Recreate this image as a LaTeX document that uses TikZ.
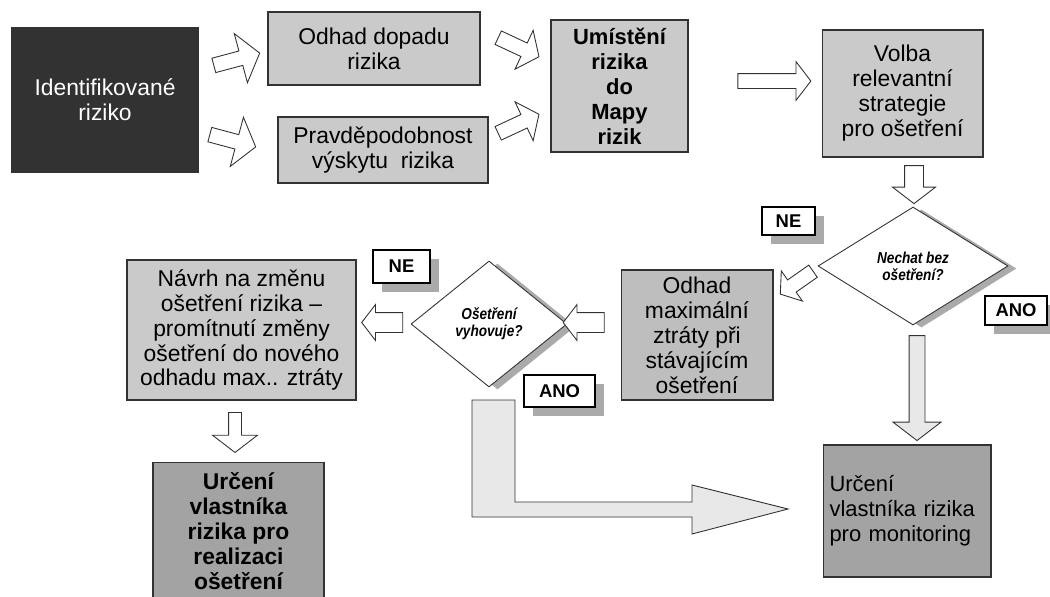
\documentclass[tikz,border=0pt]{standalone}
\usepackage{fontspec}
\setmainfont{Liberation Sans}
\newfontfamily\narrowfont[FakeStretch=0.86]{Liberation Sans}
\usepackage{tikz}
\usetikzlibrary{shapes,shadows,positioning,calc}
\definecolor{boxgray}{RGB}{202,202,202}
\definecolor{midgray}{RGB}{190,190,190}
\definecolor{darkgray}{RGB}{163,163,163}
\definecolor{inkgray}{RGB}{50,50,50}
\definecolor{shadowgray}{RGB}{170,170,170}
\definecolor{arrowgray}{RGB}{232,232,232}

\begin{document}
\begin{tikzpicture}[x=0.02cm,y=-0.02cm,
	box/.style={draw=inkgray,line width=0.6pt,fill=boxgray,align=center,inner sep=2pt,font=\fontsize{13}{14.2}\selectfont},
	decision/.style={diamond,draw=inkgray,line width=0.5pt,fill=white,inner sep=0pt,align=center,
		font=\narrowfont\fontsize{9}{9.5}\selectfont\bfseries\itshape,
		drop shadow={shadow xshift=0.17cm,shadow yshift=-0.05cm,fill=shadowgray,opacity=1}},
	tag/.style={draw=black,line width=0.6pt,fill=white,inner sep=1pt,font=\fontsize{10.5}{12}\selectfont\bfseries,
		drop shadow={shadow xshift=0.17cm,shadow yshift=-0.17cm,fill=shadowgray,opacity=1}},
	barrow/.style={single arrow,draw=inkgray,line width=0.5pt,fill=white,inner xsep=0pt,single arrow tip angle=105}]
\useasboundingbox (0,0) rectangle (1050,596);

% upper row
\node[box,fill=inkgray,text=white,minimum width=3.72cm,minimum height=2.88cm] (ident) at (105,100) {Identifikované\\riziko};
\node[box,minimum width=4.24cm,minimum height=1.46cm] (dopad) at (374,48.5) {Odhad dopadu\\rizika};
\node[box,minimum width=4.2cm,minimum height=1.32cm] (pravd) at (383,150) {Pravděpodobnost\\výskytu\ \ rizika};
\node[box,font=\fontsize{12.5}{14.2}\selectfont\bfseries,minimum width=2.74cm,minimum height=2.64cm] (umist) at (619.5,86) {Umístění\\rizika\\do\\Mapy\\rizik};
\node[box,minimum width=3.22cm,minimum height=2.54cm] (volba) at (902.5,93.5) {Volba\\relevantní\\strategie\\pro ošetření};

% decisions and their answers
\node[decision,minimum width=3.8cm,minimum height=2.36cm] (nechat) at (913,266) {Nechat bez\\ošetření?};
\node[tag,minimum width=1.06cm,minimum height=0.56cm] (ne1) at (788.5,221) {NE};
\node[tag,minimum width=1.24cm,minimum height=0.58cm] (ano1) at (1016,310.5) {ANO};
\node[box,fill=midgray,minimum width=3.04cm,minimum height=2.6cm] (maxztr) at (697,335) {Odhad\\maximální\\ztráty při\\stávajícím\\ošetření};
\node[decision,minimum width=3.12cm,minimum height=2.52cm] (vyhov) at (489,324) {Ošetření\\vyhovuje?};
\node[tag,minimum width=1.14cm,minimum height=0.66cm] (ne2) at (401.5,266.5) {NE};
\node[tag,minimum width=1.42cm,minimum height=0.64cm] (ano2) at (559.5,391) {ANO};

% lower row
\node[box,minimum width=4.58cm,minimum height=2.8cm] (navrh) at (241.5,330) {Návrh na změnu\\ošetření rizika –\\promítnutí změny\\ošetření do nového\\odhadu max.. ztráty};
\node[box,fill=darkgray,font=\fontsize{13}{14.2}\selectfont\bfseries,minimum width=3.42cm,minimum height=2.76cm] (realiz) at (238.5,531) {Určení\\vlastníka\\rizika pro\\realizaci\\ošetření};
\node[box,fill=darkgray,align=left,font=\fontsize{12.5}{14.2}\selectfont,text width=3.1cm,inner xsep=0.13cm,minimum height=2.64cm] (monit) at (907,511) {Určení\\vlastníka rizika\\pro monitoring};

% block arrows
\node[barrow,rotate=15,minimum height=0.95cm,inner ysep=0.14cm,single arrow head extend=0.36cm] (a1) at (234,60) {};
\node[barrow,rotate=-15,minimum height=0.95cm,inner ysep=0.14cm,single arrow head extend=0.36cm] (a2) at (230,140) {};
\node[barrow,rotate=-25,minimum height=0.9cm,inner ysep=0.14cm,single arrow head extend=0.28cm] (a3) at (516,46) {};
\node[barrow,rotate=25,minimum height=0.9cm,inner ysep=0.14cm,single arrow head extend=0.28cm] (a4) at (516,125) {};
\node[barrow,minimum height=1.46cm,inner ysep=0.14cm,single arrow head extend=0.24cm] (a5) at (771.5,81) {};
\node[barrow,rotate=-90,minimum height=0.76cm,inner ysep=0.18cm,single arrow head extend=0.24cm] (a6) at (914,181) {};
\node[barrow,rotate=215,minimum height=0.8cm,inner ysep=0.14cm,single arrow head extend=0.22cm] (a7) at (799,281) {};
\node[barrow,rotate=180,minimum height=0.82cm,inner ysep=0.19cm,single arrow head extend=0.16cm] (a8) at (587.5,322.5) {};
\node[barrow,rotate=180,minimum height=0.82cm,inner ysep=0.19cm,single arrow head extend=0.16cm] (a9) at (386,322.5) {};
\node[barrow,rotate=-90,minimum height=0.8cm,inner ysep=0.12cm,single arrow head extend=0.32cm] (a10) at (235,430) {};
\node[barrow,fill=arrowgray,rotate=-90,minimum height=2.1cm,inner ysep=0.15cm,single arrow head extend=0.32cm] (a11) at (917,385) {};

% ANO path to monitoring
\coordinate (tip) at (788,509);
\draw[draw=inkgray,line width=0.5pt,fill=arrowgray] (472,400) -- (515,400) -- (515,502) -- (692,502) -- (692,485)
	-- (tip) -- (692,534) -- (692,517) -- (472,517) -- cycle;
\end{tikzpicture}
\end{document}
